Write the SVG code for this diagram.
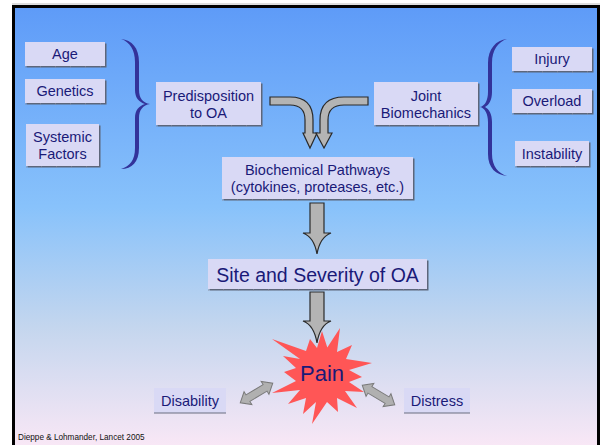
<svg xmlns="http://www.w3.org/2000/svg" width="602" height="445" viewBox="0 0 602 445">
  <defs>
    <linearGradient id="bg" x1="0" y1="0" x2="0" y2="1">
      <stop offset="0" stop-color="#5e9bf8"/>
      <stop offset="0.45" stop-color="#88c2fb"/>
      <stop offset="0.72" stop-color="#c4d6ee"/>
      <stop offset="1" stop-color="#fbe8f6"/>
    </linearGradient>
  </defs>
  <style>
    .box { fill: #d9d9f5; }
    .shade { fill: #5d667a; }
    .tick { stroke: #8a90a4; stroke-width: 1; stroke-dasharray: 1 14; fill: none; }
    .lbl { font-family: "Liberation Sans", Arial, sans-serif; font-size: 14.5px; fill: #1a1a78; text-anchor: middle; }
    .big { font-size: 19.5px; }
    .pain { font-size: 22px; }
    .brace { fill: #33339a; }
    .arrow { fill: #b4b4b4; stroke: #2a2a2a; stroke-width: 1.2; stroke-linejoin: miter; }
    .dbl { fill: #b0b0b0; stroke: #7a7a7a; stroke-width: 1; }
    .note { font-family: "Liberation Sans", Arial, sans-serif; font-size: 8.2px; fill: #111; }
  </style>

  <!-- page and framed panel -->
  <rect x="0" y="0" width="602" height="445" fill="#ffffff"/>
  <line x1="12" y1="4" x2="600" y2="4" stroke="#bdbdbd" stroke-width="1"/>
  <rect x="13.5" y="6.5" width="585" height="445" fill="url(#bg)" stroke="#000" stroke-width="3"/>

  <!-- braces -->
  <g id="brace-left">
    <path class="brace" d="M121,39 C132,40 139,48 139,62 L139,90 C139,98 143,103 150,104 C143,105 139,110 139,118 L139,148 C139,162 132,169 121,169 C130,166 135,160 135,148 L135,118 C135,110 139,106 145,104 C139,102 135,98 135,90 L135,62 C135,50 130,42 121,39 Z"/>
  </g>
  <g id="brace-right">
    <path class="brace" d="M507,39 C496,40 488,49 488,63 L488,92 C488,100 485,106 480,107 C485,108 488,114 488,122 L488,154 C488,168 496,175 507,176 C498,173 492,166 492,154 L492,122 C492,114 489,109 485,107 C489,105 492,100 492,92 L492,63 C492,50 498,42 507,39 Z"/>
  </g>

  <!-- pain burst (drawn beneath the arrows that touch it) -->
  <g id="pain">
    <polygon fill="#ff5656" points="322,331 327.3,347.5 340,328 337,352 352,345 346,359 372,363 349,370 362,377 349,382 364,392 345,391 357,408 337,398 338,412 327,402 312,424 316,402 303,414 306,398 288,404 300,390 272,393 296,381 284,372 296,368 283,356 300,359 272,339 306,351 310,339 317,348"/>
    <text class="lbl pain" x="322" y="381">Pain</text>
  </g>

  <!-- connectors -->
  <g id="connectors">
    <path class="arrow" d="M270,97 L290,97 Q313,97 313,120 L313,133 L317,133 L310,148 L303,133 L305,133 L305,120 Q305,105 290,105 L270,105 Z"/>
    <path class="arrow" d="M368,97 L344,97 Q320,97 320,120 L320,133 L316,133 L324,148 L332,133 L328,133 L328,120 Q328,105 344,105 L368,105 Z"/>
    <path class="arrow" d="M310,203 L324,203 L324,233 L331,233 Q320,237 317,254 Q314,237 303,233 L310,233 Z"/>
    <path class="arrow" d="M310,292 L324,292 L324,321 L331,321 Q320,325 317,343 Q314,325 303,321 L310,321 Z"/>
    <path class="dbl" transform="translate(256.5,393) rotate(-31.2)" d="M-19,0 L-10,-7.5 L-10,-3.8 L10,-3.8 L10,-7.5 L19,0 L10,7.5 L10,3.8 L-10,3.8 L-10,7.5 Z"/>
    <path class="dbl" transform="translate(378.5,395) rotate(31.2)" d="M-19,0 L-10,-7.5 L-10,-3.8 L10,-3.8 L10,-7.5 L19,0 L10,7.5 L10,3.8 L-10,3.8 L-10,7.5 Z"/>
  </g>

  <!-- left factor boxes -->
  <g id="age">
    <rect class="shade" x="26.5" y="43.5" width="80" height="24"/>
    <rect class="box" x="25" y="42" width="80" height="24"/>
    <line class="tick" x1="25" y1="67" x2="106" y2="67"/>
    <text class="lbl" x="65" y="59">Age</text>
  </g>
  <g id="genetics">
    <rect class="shade" x="26.5" y="80.5" width="80" height="24"/>
    <rect class="box" x="25" y="79" width="80" height="24"/>
    <line class="tick" x1="25" y1="104" x2="106" y2="104"/>
    <text class="lbl" x="65" y="96">Genetics</text>
  </g>
  <g id="systemic">
    <rect class="shade" x="27.5" y="125.5" width="73" height="42"/>
    <rect class="box" x="26" y="124" width="73" height="42"/>
    <line class="tick" x1="26" y1="167" x2="100" y2="167"/>
    <text class="lbl" x="62.5" y="142">Systemic</text>
    <text class="lbl" x="62.5" y="159">Factors</text>
  </g>

  <!-- central boxes -->
  <g id="predisposition">
    <rect class="shade" x="157.5" y="83.5" width="105" height="43"/>
    <rect class="box" x="156" y="82" width="105" height="43"/>
    <line class="tick" x1="156" y1="126" x2="262" y2="126"/>
    <text class="lbl" x="208.5" y="101">Predisposition</text>
    <text class="lbl" x="208.5" y="118">to OA</text>
  </g>
  <g id="biomechanics">
    <rect class="shade" x="375.5" y="83.5" width="104" height="43"/>
    <rect class="box" x="374" y="82" width="104" height="43"/>
    <line class="tick" x1="374" y1="126" x2="479" y2="126"/>
    <text class="lbl" x="426" y="101">Joint</text>
    <text class="lbl" x="426" y="118">Biomechanics</text>
  </g>
  <g id="pathways">
    <rect class="shade" x="223.5" y="158.5" width="191" height="42"/>
    <rect class="box" x="222" y="157" width="191" height="42"/>
    <line class="tick" x1="222" y1="200" x2="414" y2="200"/>
    <text class="lbl" x="317.5" y="175">Biochemical Pathways</text>
    <text class="lbl" x="317.5" y="192">(cytokines, proteases, etc.)</text>
  </g>
  <g id="severity">
    <rect class="shade" x="209.5" y="260.5" width="219" height="30"/>
    <rect class="box" x="208" y="259" width="219" height="30"/>
    <line class="tick" x1="208" y1="290" x2="428" y2="290"/>
    <text class="lbl big" x="317.5" y="282">Site and Severity of OA</text>
  </g>

  <!-- right factor boxes -->
  <g id="injury">
    <rect class="shade" x="513.5" y="48.5" width="80" height="24"/>
    <rect class="box" x="512" y="47" width="80" height="24"/>
    <line class="tick" x1="512" y1="72" x2="593" y2="72"/>
    <text class="lbl" x="552" y="64">Injury</text>
  </g>
  <g id="overload">
    <rect class="shade" x="513.5" y="90.5" width="80" height="24"/>
    <rect class="box" x="512" y="89" width="80" height="24"/>
    <line class="tick" x1="512" y1="114" x2="593" y2="114"/>
    <text class="lbl" x="552" y="106">Overload</text>
  </g>
  <g id="instability">
    <rect class="shade" x="516.5" y="142.5" width="74" height="25"/>
    <rect class="box" x="515" y="141" width="74" height="25"/>
    <line class="tick" x1="515" y1="167" x2="590" y2="167"/>
    <text class="lbl" x="552" y="159">Instability</text>
  </g>

  <!-- outcome boxes -->
  <g id="disability">
    <rect class="box" x="154" y="388" width="72" height="25"/>
    <line x1="154" y1="413" x2="226" y2="413" stroke="#6a6f80" stroke-width="1.2"/>
    <text class="lbl" x="190" y="406">Disability</text>
  </g>
  <g id="distress">
    <rect class="box" x="404" y="388" width="66" height="25"/>
    <line x1="404" y1="413" x2="470" y2="413" stroke="#6a6f80" stroke-width="1.2"/>
    <text class="lbl" x="437" y="406">Distress</text>
  </g>

  <text class="note" x="18" y="440">Dieppe &amp; Lohmander, Lancet 2005</text>
</svg>
